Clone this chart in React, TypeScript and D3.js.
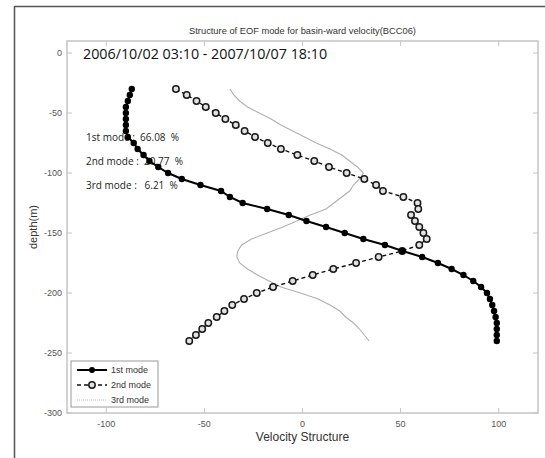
import React from "react";
import * as d3 from "d3";

const depths: number[] = [
  -30, -35, -40, -45, -50, -55, -60, -65, -70, -75, -80, -85, -90, -95, -100,
  -105, -110, -115, -120, -125, -130, -135, -140, -145, -150, -155, -160, -165,
  -170, -175, -180, -185, -190, -195, -200, -205, -210, -215, -220, -225, -230,
  -235, -240,
];

const mode1: number[] = [
  -87, -88, -89, -90, -90, -90, -90, -90, -89, -86, -84, -81, -78, -73.5, -68.5,
  -61.5, -52, -41.5, -37, -30.5, -18, -7, 2, 12, 21.5, 31, 42, 51, 61, 69, 76,
  82, 87, 91, 94, 95.5, 96.7, 97.6, 98.4, 99, 99, 99, 99,
];

const mode2: number[] = [
  -64.5, -59, -54, -49.3, -44.2, -39.3, -34, -29.5, -24.2, -17.7, -11, -2.6, 6,
  13.5, 22.5, 31.5, 37.5, 41, 51.4, 58.6, 59, 55.3, 57.3, 59.5, 61.6, 63.3, 59.5,
  50.8, 38.8, 27.3, 15.7, 5.2, -5, -15, -23.3, -29.8, -35.8, -39.8, -43.7, -48,
  -51.1, -54.3, -57.7,
];

const mode3: number[] = [
  -37, -35, -32, -28, -22, -16, -11, -5, 1, 7, 14, 20, 24, 28, 31, 29, 26, 24,
  20, 16, 12, 4, -3, -10, -18, -26, -31, -33, -33.5, -32, -28, -23, -17, -11, -1,
  8, 14, 19, 22, 26, 29, 31.5, 34,
];

const xTicks: number[] = [-100, -50, 0, 50, 100];
const yTicks: number[] = [0, -50, -100, -150, -200, -250, -300];

const titleText = "Structure of EOF mode for basin-ward velocity(BCC06)";
const periodText = "2006/10/02 03:10 - 2007/10/07 18:10";
const varianceLines: string[] = [
  "1st mode :  66.08  %",
  "2nd mode :  20.77  %",
  "3rd mode :   6.21  %",
];
const legendLabels: string[] = ["1st mode", "2nd mode", "3rd mode"];
const xLabel = "Velocity Structure";
const yLabel = "depth(m)";

export default function App() {
  const W = 545;
  const H = 458;
  const left = 67;
  const right = 538;
  const top = 41;
  const bottom = 413;

  const x = d3.scaleLinear().domain([-120, 120]).range([left, right]);
  const y = d3.scaleLinear().domain([-300, 10]).range([bottom, top]);

  const mk = (vals: number[]) =>
    d3
      .line<number>()
      .x((v) => x(v))
      .y((_, i) => y(depths[i]))(vals) as string;

  const axisColor = "#c4c4c4";
  const tickText = "#555";
  const sans = "'Liberation Sans', Arial, sans-serif";
  const alt = "'Open Sans', sans-serif";

  const legX = 71;
  const legY = 361;
  const legRows = [370, 385, 400];

  return (
    <svg
      width={W}
      height={H}
      style={{ position: "absolute", left: 0, top: 0, background: "#fff" }}
    >
      <rect x={0} y={0} width={W} height={H} fill="#fff" />
      <rect
        x={14.5}
        y={6.5}
        width={700}
        height={700}
        fill="none"
        stroke="#555"
        strokeWidth={1.5}
      />
      <text
        x={(left + right) / 2}
        y={34}
        textAnchor="middle"
        fontFamily={sans}
        fontSize={9.3}
        fill="#333"
      >
        {titleText}
      </text>
      <rect
        x={left}
        y={top}
        width={right - left}
        height={bottom - top}
        fill="none"
        stroke={axisColor}
        strokeWidth={1.5}
      />
      {xTicks.map((t) => (
        <g key={"xt" + t}>
          <line x1={x(t)} x2={x(t)} y1={bottom} y2={bottom - 5} stroke={axisColor} />
          <line x1={x(t)} x2={x(t)} y1={top} y2={top + 5} stroke={axisColor} />
          <text
            x={x(t)}
            y={427}
            textAnchor="middle"
            fontFamily={sans}
            fontSize={9}
            fill={tickText}
          >
            {t}
          </text>
        </g>
      ))}
      {yTicks.map((t) => (
        <g key={"yt" + t}>
          <line x1={left} x2={left + 5} y1={y(t)} y2={y(t)} stroke={axisColor} />
          <line x1={right} x2={right - 5} y1={y(t)} y2={y(t)} stroke={axisColor} />
          <text
            x={62}
            y={y(t) + 3}
            textAnchor="end"
            fontFamily={sans}
            fontSize={9}
            fill={tickText}
          >
            {t}
          </text>
        </g>
      ))}
      <text
        x={(left + right) / 2}
        y={441}
        textAnchor="middle"
        fontFamily={sans}
        fontSize={12}
        fill="#333"
      >
        {xLabel}
      </text>
      <text
        transform={`translate(37,227) rotate(-90)`}
        textAnchor="middle"
        fontFamily={sans}
        fontSize={11}
        fill="#333"
      >
        {yLabel}
      </text>
      <text x={83} y={59} fontFamily={alt} fontSize={14.3} fill="#111">
        {periodText}
      </text>
      {varianceLines.map((s, i) => (
        <text
          key={s}
          x={86}
          y={141 + i * 24}
          fontFamily={alt}
          fontSize={10}
          fill="#222"
          style={{ whiteSpace: "pre" }}
        >
          {s}
        </text>
      ))}
      <path d={mk(mode3)} fill="none" stroke="#b0b0b0" strokeWidth={1.1} />
      <path
        d={mk(mode2)}
        fill="none"
        stroke="#111"
        strokeWidth={1.4}
        strokeDasharray="4,3"
      />
      {mode2.map((v, i) => (
        <circle
          key={"m2" + i}
          cx={x(v)}
          cy={y(depths[i])}
          r={3.2}
          fill="#e2e2e2"
          stroke="#1a1a1a"
          strokeWidth={1.5}
        />
      ))}
      <path d={mk(mode1)} fill="none" stroke="#000" strokeWidth={2} />
      {mode1.map((v, i) => (
        <circle key={"m1" + i} cx={x(v)} cy={y(depths[i])} r={3.2} fill="#000" />
      ))}
      <rect
        x={legX}
        y={legY}
        width={87}
        height={46}
        fill="#fff"
        stroke="#999"
        strokeWidth={1}
      />
      <line x1={77} x2={107} y1={legRows[0]} y2={legRows[0]} stroke="#000" strokeWidth={2} />
      <circle cx={92} cy={legRows[0]} r={3} fill="#000" />
      <line
        x1={77}
        x2={107}
        y1={legRows[1]}
        y2={legRows[1]}
        stroke="#111"
        strokeWidth={1.4}
        strokeDasharray="4,3"
      />
      <circle cx={92} cy={legRows[1]} r={3.2} fill="#e2e2e2" stroke="#1a1a1a" strokeWidth={1.5} />
      <line
        x1={77}
        x2={107}
        y1={legRows[2]}
        y2={legRows[2]}
        stroke="#b8b8b8"
        strokeWidth={1}
        strokeDasharray="1,1"
      />
      {legendLabels.map((s, i) => (
        <text
          key={s}
          x={111}
          y={legRows[i] + 3}
          fontFamily={sans}
          fontSize={9}
          fill="#333"
        >
          {s}
        </text>
      ))}
    </svg>
  );
}
